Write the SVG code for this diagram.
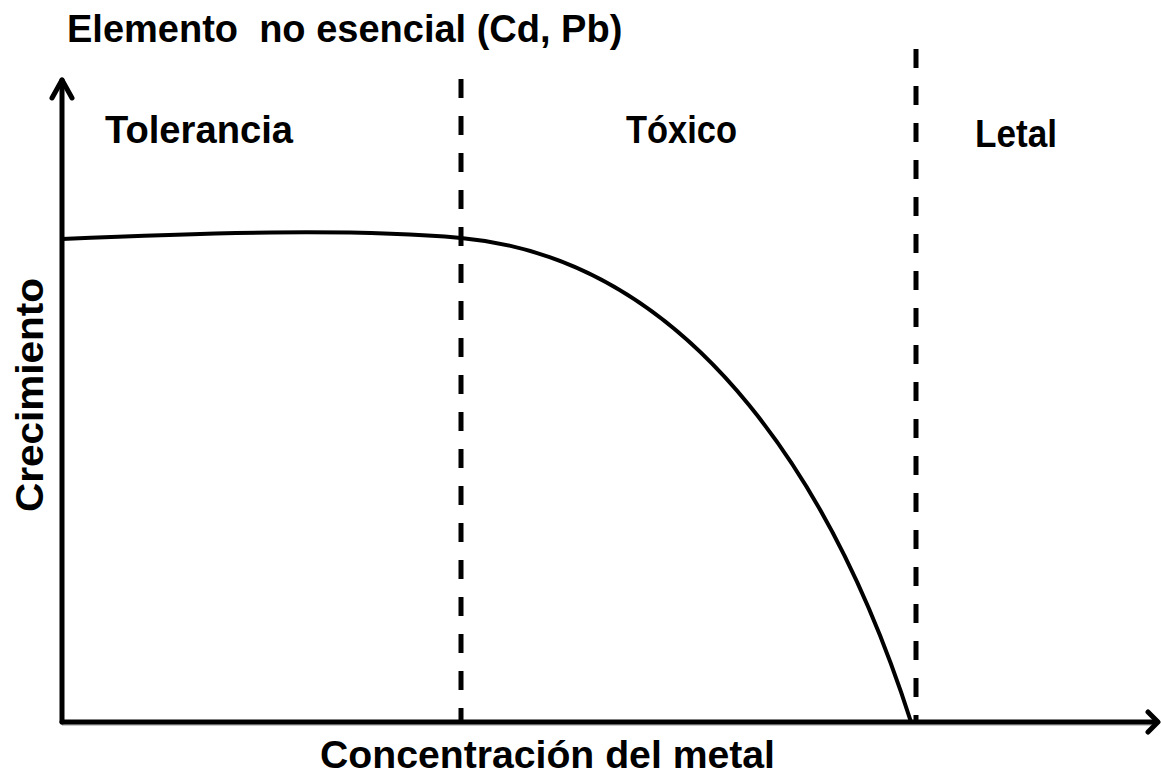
<svg xmlns="http://www.w3.org/2000/svg" width="1161" height="777" viewBox="0 0 1161 777">
<style>
text{font-family:"Liberation Sans",Arial,sans-serif;font-weight:bold;font-size:38px;fill:#000}
.ax{stroke:#000;stroke-width:5;fill:none;stroke-linecap:round;stroke-linejoin:round}
.dash{stroke:#000;stroke-width:5;fill:none;stroke-dasharray:19 18}
.curve{stroke:#000;stroke-width:4;fill:none}
</style>
<rect width="1161" height="777" fill="#fff"/>
<g id="axes">
<line x1="62" y1="725" x2="1152" y2="725" stroke="#c8c8c8" stroke-width="2"/>
<line class="ax" x1="62" y1="80" x2="62" y2="722"/>
<line class="ax" x1="62" y1="722" x2="1157" y2="722"/>
<polyline class="ax" points="52,98 62,80 72,98"/>
<polyline class="ax" points="1148,712 1158,722 1148,732"/>
</g>
<g id="connectors">
<line class="dash" x1="461" y1="79" x2="461" y2="724"/>
<line class="dash" x1="916" y1="49" x2="916" y2="724"/>
<path class="curve" d="M62,239 C200,233 350,228 461,238 C700,260 840,500 911,722"/>
</g>
<g id="title"><text x="67" y="42" xml:space="preserve" style="white-space:pre">Elemento  no esencial (Cd, Pb)</text></g>
<g id="tolerancia"><text x="105" y="143" textLength="188" lengthAdjust="spacingAndGlyphs">Tolerancia</text></g>
<g id="toxico"><text x="626" y="143" textLength="111" lengthAdjust="spacingAndGlyphs">Tóxico</text></g>
<g id="letal"><text x="975" y="147" textLength="82" lengthAdjust="spacingAndGlyphs">Letal</text></g>
<g id="xlabel"><text x="320" y="768" textLength="455" lengthAdjust="spacingAndGlyphs">Concentración del metal</text></g>
<g id="ylabel"><text transform="translate(43,395) rotate(-90)" text-anchor="middle" textLength="234" lengthAdjust="spacingAndGlyphs">Crecimiento</text></g>
</svg>
